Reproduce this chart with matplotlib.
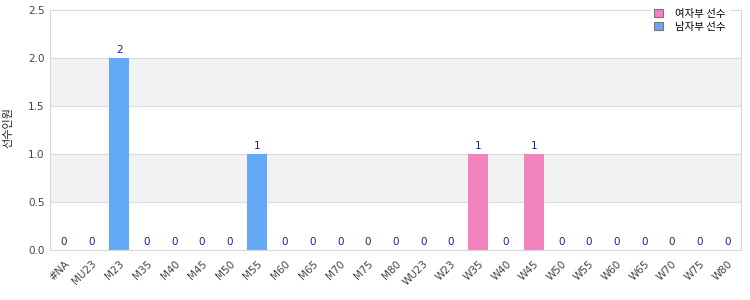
import matplotlib

matplotlib.use("Agg")
import matplotlib.pyplot as plt
from matplotlib.patches import Patch
import numpy as np

plt.rcParams["font.family"] = ["DejaVu Sans", "Noto Sans CJK KR"]

categories = ["#NA", "MU23", "M23", "M35", "M40", "M45", "M50", "M55", "M60", "M65",
              "M70", "M75", "M80", "WU23", "W23", "W35", "W40", "W45", "W50", "W55",
              "W60", "W65", "W70", "W75", "W80"]
counts = [0, 0, 2, 0, 0, 0, 0, 1, 0, 0, 0, 0, 0, 0, 0, 1, 0, 1, 0, 0, 0, 0, 0, 0, 0]
series_labels = ["여자부 선수", "남자부 선수"]
y_label = "선수인원"

PINK = "#f283bd"
BLUE = "#63a9f5"
CJK = ["Noto Sans CJK KR", "DejaVu Sans"]
colors = [PINK if c.startswith("W") else BLUE for c in categories]

fig = plt.figure(figsize=(7.5, 3), dpi=100)
ax = fig.add_axes([0.0667, 0.1667, 0.9213, 0.8])

x = np.arange(len(categories))
ax.set_xlim(-0.5, len(categories) - 0.5)
ax.set_ylim(0, 2.5)

# alternating background bands and grid
for lo in (0.5, 1.5):
    ax.axhspan(lo, lo + 0.5, color="#f2f2f2", zorder=0)
for y in np.arange(0.5, 2.5, 0.5):
    ax.axhline(y, color="#dcdcdc", lw=0.8, zorder=1)

ax.bar(x, counts, width=0.72, color=colors, zorder=2)
for xi, v in zip(x, counts):
    ax.text(xi, v + 0.03, f"{v}", ha="center", va="bottom", fontsize=7.5, color="#1f1f8f")

ax.set_xticks(x)
ax.set_xticklabels(categories, rotation=45, ha="right", rotation_mode="anchor",
                   fontsize=7.5, color="#444444")
ax.set_yticks(np.arange(0, 2.51, 0.5))
ax.set_yticklabels([f"{t:.1f}" for t in np.arange(0, 2.51, 0.5)], fontsize=7.5, color="#444444")
ax.tick_params(length=0, pad=4)
ax.tick_params(axis="x", pad=6)
for s in ax.spines.values():
    s.set_color("#d8d8d8")
    s.set_linewidth(0.8)

fig.text(0.004, 0.575, y_label, rotation=90, ha="left", va="center",
         fontsize=8, color="#222222", family=CJK)

handles = [Patch(facecolor=PINK, edgecolor="#777777", lw=0.8),
           Patch(facecolor=BLUE, edgecolor="#777777", lw=0.8)]
leg = ax.legend(handles, series_labels, loc="upper right", bbox_to_anchor=(0.99, 1.04),
                frameon=True, handlelength=0.8, handleheight=0.8,
                handletextpad=1.2, labelspacing=0.3, borderpad=0.3,
                prop={"family": CJK, "size": 7.5})
leg.get_frame().set_edgecolor("white")
leg.get_frame().set_facecolor("white")
leg.get_frame().set_alpha(1)

fig.savefig("out.png", dpi=100)
